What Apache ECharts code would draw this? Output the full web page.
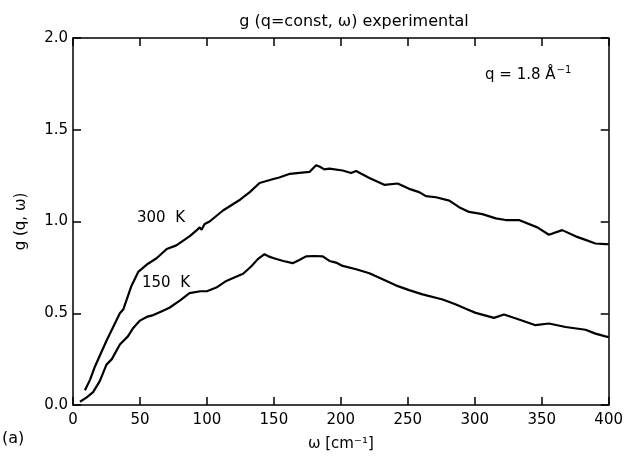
<!DOCTYPE html>
<html>
<head>
<meta charset="utf-8">
<script src="https://cdn.jsdelivr.net/npm/echarts@6/dist/echarts.min.js"></script>
<style>html,body{margin:0;padding:0;background:#fff}#c{width:626px;height:464px}</style>
</head>
<body>
<div id="c"></div>
<script>
var xTicks = [0, 50, 100, 150, 200, 250, 300, 350, 400];
var yTicks = [0.0, 0.5, 1.0, 1.5, 2.0];

var omega300 = [8.9, 12.7, 16.4, 25, 35, 37.5, 43.7, 48.7, 50, 56, 62.4, 70, 77.2, 87.2, 92, 94.6, 96, 98.3, 102, 112, 125, 132, 139.3, 149, 154, 162, 169, 176.6, 181.5, 184, 187.7, 191.5, 201.4, 207.6, 211.4, 221.3, 232.4, 242.4, 251, 258.5, 263.5, 271, 281, 288.3, 295.8, 305.7, 315.7, 323.1, 333, 346.7, 355.4, 365.3, 375.3, 382.7, 390.1, 397.6, 400];
var g300 = [0.08, 0.137, 0.21, 0.35, 0.50, 0.52, 0.65, 0.725, 0.73, 0.77, 0.80, 0.85, 0.87, 0.92, 0.95, 0.968, 0.955, 0.986, 1.0, 1.06, 1.12, 1.16, 1.21, 1.23, 1.24, 1.26, 1.265, 1.27, 1.306, 1.30, 1.284, 1.288, 1.278, 1.264, 1.275, 1.237, 1.2, 1.207, 1.178, 1.16, 1.138, 1.132, 1.114, 1.078, 1.052, 1.04, 1.017, 1.008, 1.008, 0.968, 0.928, 0.953, 0.919, 0.90, 0.88, 0.877, 0.876];

var omega150 = [5.2, 10, 15, 20, 25, 29, 35, 41, 45, 50, 55, 60, 66, 72, 80, 87, 95, 100, 107, 114.5, 120, 127, 133, 138, 143, 146, 150, 157, 164, 169, 174, 180, 186.5, 191.5, 196.4, 201.4, 211.4, 221.3, 231.2, 241, 251, 261, 276, 286, 293.3, 300.7, 314.4, 321.8, 333, 345.4, 355.4, 367.8, 382.7, 390.1, 397.6, 400];
var g150 = [0.018, 0.04, 0.07, 0.13, 0.22, 0.25, 0.33, 0.374, 0.42, 0.46, 0.48, 0.49, 0.51, 0.53, 0.57, 0.61, 0.62, 0.62, 0.64, 0.676, 0.694, 0.715, 0.755, 0.795, 0.822, 0.81, 0.80, 0.785, 0.773, 0.79, 0.81, 0.812, 0.81, 0.785, 0.776, 0.758, 0.74, 0.718, 0.685, 0.652, 0.626, 0.603, 0.575, 0.548, 0.524, 0.502, 0.475, 0.493, 0.466, 0.435, 0.444, 0.425, 0.41, 0.389, 0.374, 0.37];

function pairs(xs, ys) { return xs.map(function (x, i) { return [x, ys[i]]; }); }

var FONT = 'DejaVu Sans';
var chart = echarts.init(document.getElementById('c'), null, { renderer: 'canvas' });
var tickStyle = { show: true, inside: true, length: 8, lineStyle: { color: '#000', width: 1.5 } };
var lineStyleAxis = { show: true, onZero: false, lineStyle: { color: '#000', width: 1.5 } };

chart.setOption({
  animation: false,
  backgroundColor: '#fff',
  title: {
    text: 'g (q=const, ω) experimental',
    left: 349, top: 9, textAlign: 'center',
    textStyle: { fontFamily: FONT, fontSize: 16, fontWeight: 'normal', color: '#000' }
  },
  grid: { left: 73, right: 16, top: 38, bottom: 59, containLabel: false },
  xAxis: [{
    type: 'value', min: xTicks[0], max: xTicks[xTicks.length - 1], interval: 50,
    position: 'bottom',
    axisLine: lineStyleAxis, axisTick: tickStyle, splitLine: { show: false },
    axisLabel: { color: '#000', fontFamily: FONT, fontSize: 15, margin: 8 },
    name: 'ω [cm⁻¹]', nameLocation: 'middle', nameGap: 32,
    nameTextStyle: { color: '#000', fontFamily: FONT, fontSize: 15 }
  }, {
    type: 'value', min: 0, max: 400, interval: 50, position: 'top',
    axisLine: lineStyleAxis, axisTick: tickStyle, axisLabel: { show: false }, splitLine: { show: false }
  }],
  yAxis: [{
    type: 'value', min: yTicks[0], max: yTicks[yTicks.length - 1], interval: 0.5,
    position: 'left',
    axisLine: lineStyleAxis, axisTick: tickStyle, splitLine: { show: false },
    axisLabel: { color: '#000', fontFamily: FONT, fontSize: 15, margin: 5, formatter: function (v) { return v.toFixed(1); } },
    name: 'g (q, ω)', nameLocation: 'middle', nameGap: 44, nameRotate: 90,
    nameTextStyle: { color: '#000', fontFamily: FONT, fontSize: 15 }
  }, {
    type: 'value', min: 0, max: 2, interval: 0.5, position: 'right',
    axisLine: lineStyleAxis, axisTick: tickStyle, axisLabel: { show: false }, splitLine: { show: false }
  }],
  series: [{
    name: '300 K', type: 'line', data: pairs(omega300, g300), showSymbol: false, symbol: 'none',
    lineStyle: { color: '#000', width: 2.2 }, smooth: false
  }, {
    name: '150 K', type: 'line', data: pairs(omega150, g150), showSymbol: false, symbol: 'none',
    lineStyle: { color: '#000', width: 2.2 }, smooth: false
  }],
  graphic: [
    { type: 'text', left: 137, top: 211, style: { text: '300  K', font: '15px ' + FONT, fill: '#000' } },
    { type: 'text', left: 142, top: 276, style: { text: '150  K', font: '15px ' + FONT, fill: '#000' } },
    { type: 'text', left: 485, top: 65, style: {
        text: '{a|q = 1.8 Å}{s|−1}',
        rich: { a: { font: '15px ' + FONT, fill: '#000', verticalAlign: 'bottom' },
                s: { font: '10px ' + FONT, fill: '#000', verticalAlign: 'top', padding: [0, 0, 8, 1] } }
      } },
    { type: 'text', left: 2, top: 431, style: { text: '(a)', font: '16px ' + FONT, fill: '#000' } }
  ]
});
</script>
</body>
</html>
